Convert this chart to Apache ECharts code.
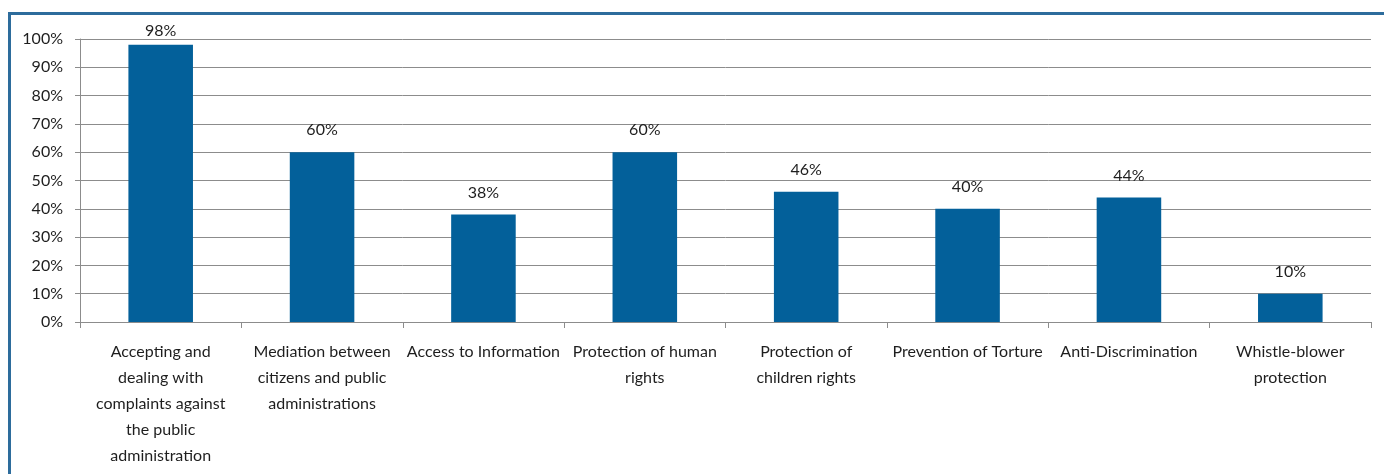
<!DOCTYPE html>
<html>
<head>
<meta charset="utf-8">
<script src="https://cdn.jsdelivr.net/npm/echarts@6/dist/echarts.min.js"></script>
<style>
html,body{margin:0;padding:0;background:#fff;}
#chart{width:1384px;height:474px;}
</style>
</head>
<body>
<div id="chart"></div>
<script>
const categories = [
  "Accepting and\ndealing with\ncomplaints against\nthe public\nadministration",
  "Mediation between\ncitizens and public\nadministrations",
  "Access to Information",
  "Protection of human\nrights",
  "Protection of\nchildren rights",
  "Prevention of Torture",
  "Anti-Discrimination",
  "Whistle-blower\nprotection"
];
const values = [98, 60, 38, 60, 46, 40, 44, 10];

const FONT = 'Lato';
const chart = echarts.init(document.getElementById('chart'));
chart.setOption({
  animation: false,
  backgroundColor: '#fff',
  graphic: [{
    type: 'rect',
    shape: { x: 9.5, y: 13.5, width: 1400, height: 500 },
    style: { fill: 'none', stroke: '#2D6C9C', lineWidth: 3 },
    silent: true
  }],
  grid: { left: 80, right: 13, top: 39, bottom: 152 },
  xAxis: {
    type: 'category',
    data: categories,
    axisLine: { lineStyle: { color: '#8C8C8C', width: 1 } },
    axisTick: { show: true, length: 6, lineStyle: { color: '#8C8C8C' } },
    axisLabel: {
      interval: 0,
      margin: 17,
      color: '#1E1E1E',
      fontFamily: FONT,
      fontSize: 16,
      lineHeight: 26
    }
  },
  yAxis: {
    type: 'value',
    min: 0,
    max: 100,
    interval: 10,
    axisLine: { show: true, lineStyle: { color: '#8C8C8C', width: 1 } },
    axisTick: { show: true, length: 5, lineStyle: { color: '#8C8C8C' } },
    splitLine: { lineStyle: { color: '#8C8C8C', width: 1 } },
    axisLabel: {
      formatter: '{value}%',
      margin: 17,
      color: '#1E1E1E',
      fontFamily: FONT,
      fontSize: 16
    }
  },
  series: [{
    type: 'bar',
    data: values.map((v, i) => i === 0 ? { value: v, label: { distance: 6 } } : v),
    barWidth: '40%',
    itemStyle: { color: '#03609A' },
    label: {
      show: true,
      position: 'top',
      distance: 14,
      formatter: '{c}%',
      color: '#1E1E1E',
      fontFamily: FONT,
      fontSize: 16
    }
  }]
});
</script>
</body>
</html>
